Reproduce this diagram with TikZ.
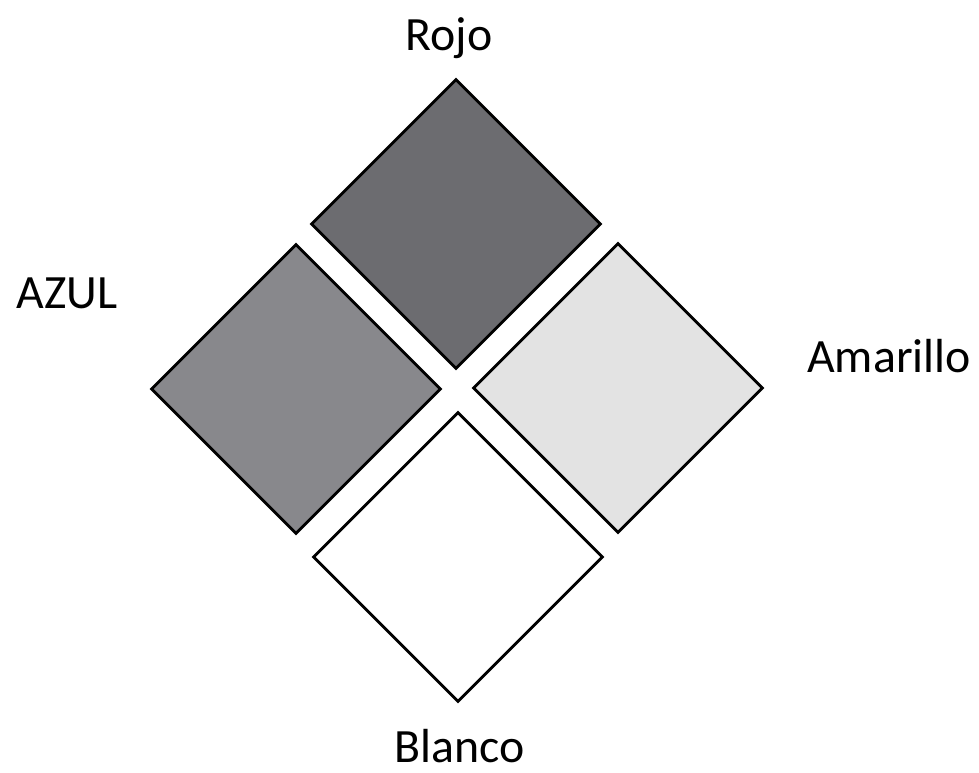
\documentclass[tikz,border=0pt]{standalone}
\usepackage{fontspec}
\setmainfont{Carlito}
\usepackage{xcolor}
\usetikzlibrary{shapes.geometric}
\definecolor{grisrojo}{RGB}{108,108,112}
\definecolor{grisazul}{RGB}{136,136,140}
\definecolor{grisamarillo}{RGB}{227,227,227}

\begin{document}
\begin{tikzpicture}[x=0.025cm,y=-0.025cm,
    rombo/.style={diamond,aspect=1,draw=black,line width=2pt,inner sep=0pt,minimum size=7.25cm},
    etiqueta/.style={anchor=base,inner sep=0pt,font=\fontsize{34}{40}\selectfont}]
    \useasboundingbox (0,0) rectangle (979,772);
    \node[rombo,fill=grisrojo] (rojo) at (456,224) {};
    \node[rombo,fill=grisazul] (azul) at (296,389) {};
    \node[rombo,fill=grisamarillo] (amarillo) at (618,388) {};
    \node[rombo,fill=white] (blanco) at (458,557) {};
    \node[etiqueta] (trojo) at (449,50) {Rojo};
    \node[etiqueta] (tazul) at (67,308) {AZUL};
    \node[etiqueta] (tamarillo) at (889,372) {Amarillo};
    \node[etiqueta] (tblanco) at (460,762) {Blanco};
\end{tikzpicture}
\end{document}
